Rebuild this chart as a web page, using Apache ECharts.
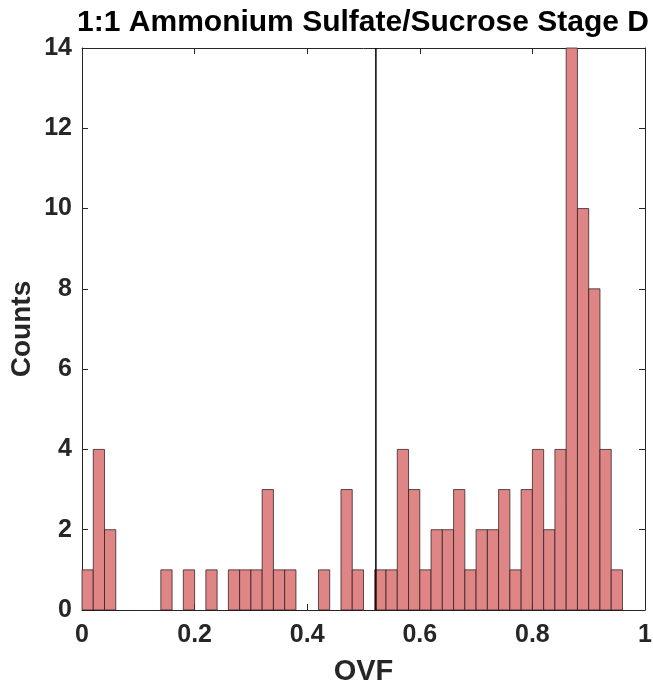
<!DOCTYPE html>
<html>
<head>
<meta charset="utf-8">
<script src="https://cdn.jsdelivr.net/npm/echarts@6/dist/echarts.min.js"></script>
<style>html,body{margin:0;padding:0;background:#fff}#c{width:653px;height:685px}</style>
</head>
<body>
<div id="c"></div>
<script>
// Histogram of OVF, bin width 0.02, starting at 0
const binWidth = 0.02;
const binStart = 0;
const counts = [
  1, 4, 2, 0, 0, 0, 0, 1, 0, 1,
  0, 1, 0, 1, 1, 1, 3, 1, 1, 0,
  0, 1, 0, 3, 1, 0, 1, 1, 4, 3,
  1, 2, 2, 3, 1, 2, 2, 3, 1, 3,
  4, 2, 4, 14, 10, 8, 4, 1, 0, 0
];
const thresholdX = 0.522;
const xTicks = [0, 0.2, 0.4, 0.6, 0.8, 1];
const yTicks = [0, 2, 4, 6, 8, 10, 12, 14];
const titleText = '1:1 Ammonium Sulfate/Sucrose Stage D';
const xName = 'OVF';
const yName = 'Counts';

const barData = [];
counts.forEach((c, i) => {
  if (c > 0) barData.push([binStart + i * binWidth, binStart + (i + 1) * binWidth, c]);
});

const axisColor = '#262626';
const font = 'Liberation Sans, Arial, sans-serif';
const chart = echarts.init(document.getElementById('c'), null, {renderer: 'canvas'});
const commonAxis = {
  axisLine: {show: true, onZero: false, lineStyle: {color: axisColor, width: 1}},
  axisTick: {show: true, inside: true, length: 6, lineStyle: {color: axisColor, width: 1}},
  splitLine: {show: false},
};
chart.setOption({
  animation: false,
  backgroundColor: '#fff',
  title: {
    text: titleText, left: 358, top: 3, textAlign: 'center',
    textStyle: {fontFamily: font, fontWeight: 'bold', fontSize: 30, color: '#000'}
  },
  grid: {left: 82, right: 8, top: 48, bottom: 75, containLabel: false, outerBoundsMode: 'none'},
  xAxis: [
    Object.assign({}, commonAxis, {
      type: 'value', min: 0, max: 1, interval: 0.2, position: 'bottom',
      name: xName, nameLocation: 'middle', nameGap: 47,
      nameTextStyle: {fontFamily: font, fontWeight: 'bold', fontSize: 29, color: axisColor},
      axisLabel: {margin: 13, fontFamily: font, fontWeight: 'bold', fontSize: 25, color: axisColor,
        formatter: v => String(+v.toFixed(1))}
    }),
    Object.assign({}, commonAxis, {
      type: 'value', min: 0, max: 1, interval: 0.2, position: 'top', axisLabel: {show: false}
    })
  ],
  yAxis: [
    Object.assign({}, commonAxis, {
      type: 'value', min: 0, max: 14, interval: 2, position: 'left',
      name: yName, nameLocation: 'middle', nameGap: 46, nameRotate: 90, nameMoveOverlap: false,
      nameTextStyle: {fontFamily: font, fontWeight: 'bold', fontSize: 28, color: axisColor},
      axisLabel: {margin: 10, fontFamily: font, fontWeight: 'bold', fontSize: 25, color: axisColor}
    }),
    Object.assign({}, commonAxis, {
      type: 'value', min: 0, max: 14, interval: 2, position: 'right', axisLabel: {show: false}
    })
  ],
  series: [
    {
      type: 'custom',
      xAxisIndex: 0, yAxisIndex: 0,
      data: barData,
      renderItem: function (params, api) {
        const p0 = api.coord([api.value(0), 0]);
        const p1 = api.coord([api.value(1), api.value(2)]);
        return {
          type: 'rect',
          shape: {x: p0[0], y: p1[1], width: p1[0] - p0[0], height: p0[1] - p1[1]},
          style: {fill: '#E08585', stroke: 'rgba(40,30,30,0.75)', lineWidth: 1}
        };
      }
    },
    {
      type: 'line',
      xAxisIndex: 0, yAxisIndex: 0,
      data: [[thresholdX, 0], [thresholdX, 14]],
      symbol: 'none',
      lineStyle: {color: '#000', width: 1.5},
      z: 5
    }
  ]
});
</script>
</body>
</html>
